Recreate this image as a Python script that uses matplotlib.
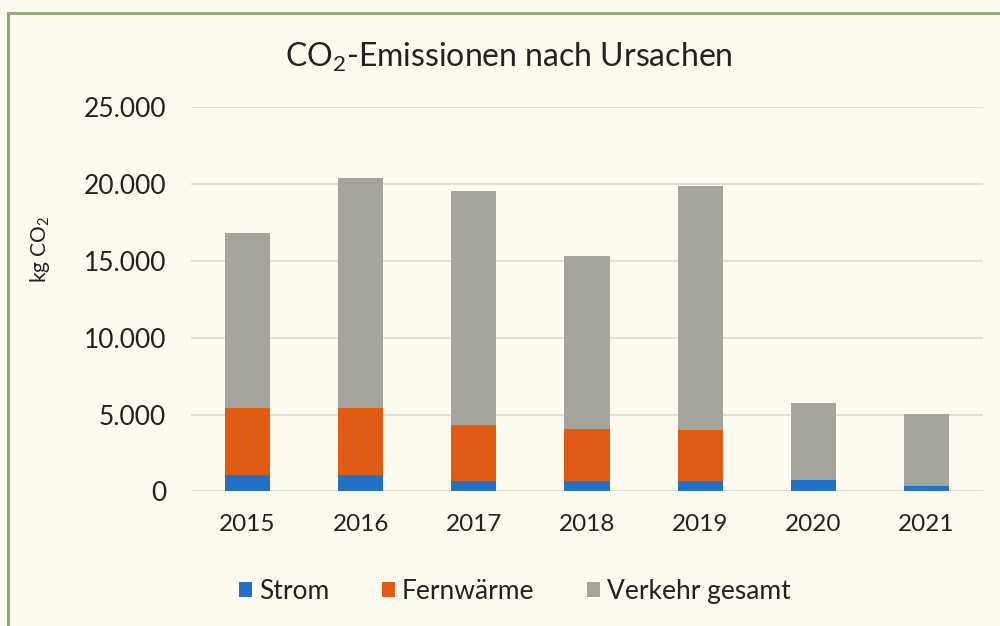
import matplotlib
matplotlib.use("Agg")
import matplotlib.pyplot as plt
from matplotlib.lines import Line2D
from matplotlib.ticker import FuncFormatter

years = ["2015", "2016", "2017", "2018", "2019", "2020", "2021"]
strom = [1070, 1070, 700, 680, 700, 750, 360]
fernwaerme = [4330, 4330, 3620, 3360, 3290, 0, 0]
totals = [16800, 20400, 19530, 15310, 19840, 5730, 5030]
verkehr = [t - s - f for t, s, f in zip(totals, strom, fernwaerme)]
series_names = ["Strom", "Fernwärme", "Verkehr gesamt"]
colors = ["#2470C4", "#E05C14", "#A4A39C"]

plt.rcParams['font.family'] = ['Lato', 'DejaVu Sans']
plt.rcParams['mathtext.fontset'] = 'custom'
plt.rcParams['mathtext.rm'] = 'Lato'
plt.rcParams['mathtext.it'] = 'Lato:italic'
bg = "#FDFBF0"
fig = plt.figure(figsize=(10, 6.26), dpi=100, facecolor=bg)
ax = fig.add_axes([0.191, 0.215, 0.792, 0.614])
ax.set_facecolor(bg)

x = list(range(len(years)))
bottoms2 = [s + f for s, f in zip(strom, fernwaerme)]
ax.bar(x, strom, width=0.4, color=colors[0], label=series_names[0], zorder=3)
ax.bar(x, fernwaerme, width=0.4, bottom=strom, color=colors[1], label=series_names[1], zorder=3)
ax.bar(x, verkehr, width=0.4, bottom=bottoms2, color=colors[2], label=series_names[2], zorder=3)

ax.set_xlim(-0.5, len(years) - 0.5)
ax.set_ylim(0, 25000)
ax.set_yticks([0, 5000, 10000, 15000, 20000, 25000])
ax.yaxis.set_major_formatter(FuncFormatter(lambda v, p: f"{int(v):,}".replace(",", ".")))
ax.set_xticks(x)
ax.set_xticklabels(years)
ax.grid(axis='y', color="#DADAD2", linewidth=1.2, zorder=0)
for s in ax.spines.values():
    s.set_visible(False)
ax.tick_params(axis='both', length=0, colors="#222222")
ax.tick_params(axis='y', pad=18, labelsize=19)
ax.tick_params(axis='x', pad=16, labelsize=17.5)

ax.set_ylabel("kg CO$_\\mathrm{2}$", fontsize=15, color="#222222")
ax.yaxis.set_label_coords(-0.176, 0.63)

fig.text(0.509, 0.908, "CO$_\\mathrm{2}$-Emissionen nach Ursachen", ha='center', va='center',
         fontsize=23, color="#222222")

leg = fig.legend(loc='center', bbox_to_anchor=(0.515, 0.055), ncol=3, frameon=False,
                 fontsize=19, handlelength=0.5, handleheight=0.5, handletextpad=0.25,
                 columnspacing=2.0, labelcolor="#222222")

# frame lines
fig.add_artist(Line2D([0.008, 0.008], [0.0, 0.979], color="#8CAA64", linewidth=2.2))
fig.add_artist(Line2D([0.008, 1.0], [0.979, 0.979], color="#9CA888", linewidth=2.2))

fig.savefig("out.png", dpi=100, facecolor=bg)
